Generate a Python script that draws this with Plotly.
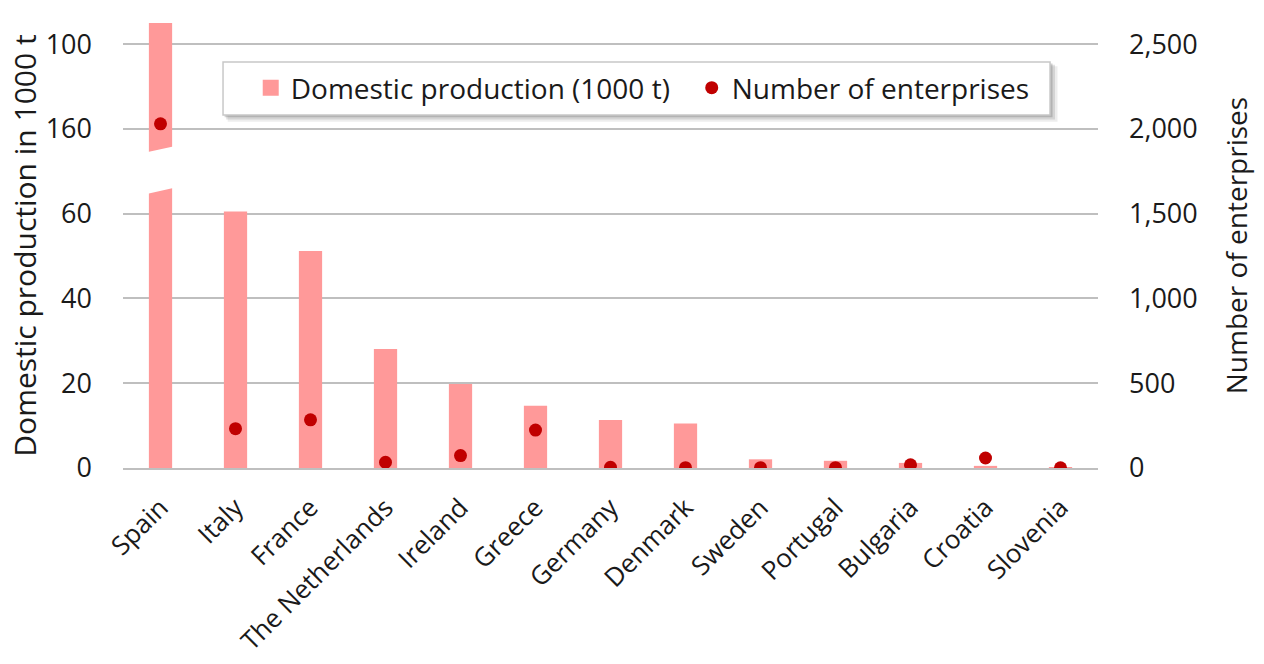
import plotly.graph_objects as go

countries = ["Spain", "Italy", "France", "The Netherlands", "Ireland", "Greece",
             "Germany", "Denmark", "Sweden", "Portugal", "Bulgaria", "Croatia", "Slovenia"]
production = [105, 60.5, 51.2, 28.1, 19.8, 14.7, 11.3, 10.5, 2.05, 1.7, 1.2, 0.5, 0.05]
enterprises = [2030, 232, 284, 34, 73, 224, 4, 2, 2, 2, 19, 59, 1]
left_tickvals = [0, 20, 40, 60, 80, 100]
left_ticktext = ["0", "20", "40", "60", "160", "100"]
right_tickvals = [0, 500, 1000, 1500, 2000, 2500]

BAR = "#FF9999"
DOT = "#C00000"
GRID = "#BFBFBF"
FONT = "Open Sans"
TXT = "#1a1a1a"

x = list(range(len(countries)))

fig = go.Figure()
fig.add_trace(go.Bar(x=x, y=production, marker=dict(color=BAR, line=dict(width=0)),
                     width=0.31, showlegend=False, name="Domestic production (1000 t)"))
# legend entry for the bars
fig.add_trace(go.Scatter(x=[None], y=[None], mode="markers",
                         marker=dict(symbol="square", size=16, color=BAR),
                         name="Domestic production (1000 t)"))
fig.add_trace(go.Scatter(x=x, y=enterprises, mode="markers", yaxis="y2",
                         marker=dict(color=DOT, size=13), name="Number of enterprises"))

# axis break on the Spain bar
fig.add_shape(type="path", xref="x", yref="y",
              path="M -0.2,74.42 L 0.2,75.98 L 0.2,66.18 L -0.2,64.62 Z",
              fillcolor="white", line=dict(width=0), layer="above")

# legend box with shadow (paper coords)
x0, x1, y0, y1 = 0.1026, 0.9508, 0.7933, 0.9124
for i, op in enumerate([0.10, 0.16, 0.25]):
    d = (3 - i) * 0.0016
    fig.add_shape(type="rect", xref="paper", yref="paper",
                  x0=x0 + d, x1=x1 + d * 1.6, y0=y0 - d * 3.2, y1=y1 - d * 2,
                  fillcolor=f"rgba(80,80,80,{op})", line=dict(width=0), layer="above")
fig.add_shape(type="rect", xref="paper", yref="paper", x0=x0, x1=x1, y0=y0, y1=y1,
              fillcolor="white", line=dict(color="#C8C8C8", width=1.5), layer="above")

fig.update_layout(
    width=1264, height=664,
    margin=dict(l=123, r=166, t=23, b=196),
    paper_bgcolor="white", plot_bgcolor="white",
    font=dict(family=FONT, size=26, color=TXT),
    bargap=0.69,
    xaxis=dict(range=[-0.5, 12.5], tickvals=x, ticktext=countries, tickangle=-45,
               showgrid=False, zeroline=False, showline=True, linecolor=GRID, linewidth=2,
               ticks="", ticklabelstandoff=12, automargin=False,
               tickfont=dict(size=26, color=TXT)),
    yaxis=dict(range=[0, 105], tickvals=left_tickvals, ticktext=left_ticktext,
               showgrid=True, gridcolor=GRID, gridwidth=2, zeroline=False,
               ticklabelstandoff=30, automargin=False, tickfont=dict(size=27, color=TXT),
               title=dict(text="Domestic production in 1000 t", standoff=0,
                          font=dict(size=30, color=TXT))),
    yaxis2=dict(range=[0, 2625], overlaying="y", side="right", tickvals=right_tickvals,
                tickformat=",", showgrid=False, zeroline=False, automargin=False,
                ticklabelstandoff=30, tickfont=dict(size=27, color=TXT),
                title=dict(text="Number of enterprises", standoff=30,
                           font=dict(size=28, color=TXT))),
    legend=dict(orientation="h", x=0.131, xanchor="left", y=0.854, yanchor="middle",
                bgcolor="rgba(0,0,0,0)", borderwidth=0, entrywidth=396,
                font=dict(size=28, color=TXT), traceorder="normal"),
)

fig.write_html("out.html")
